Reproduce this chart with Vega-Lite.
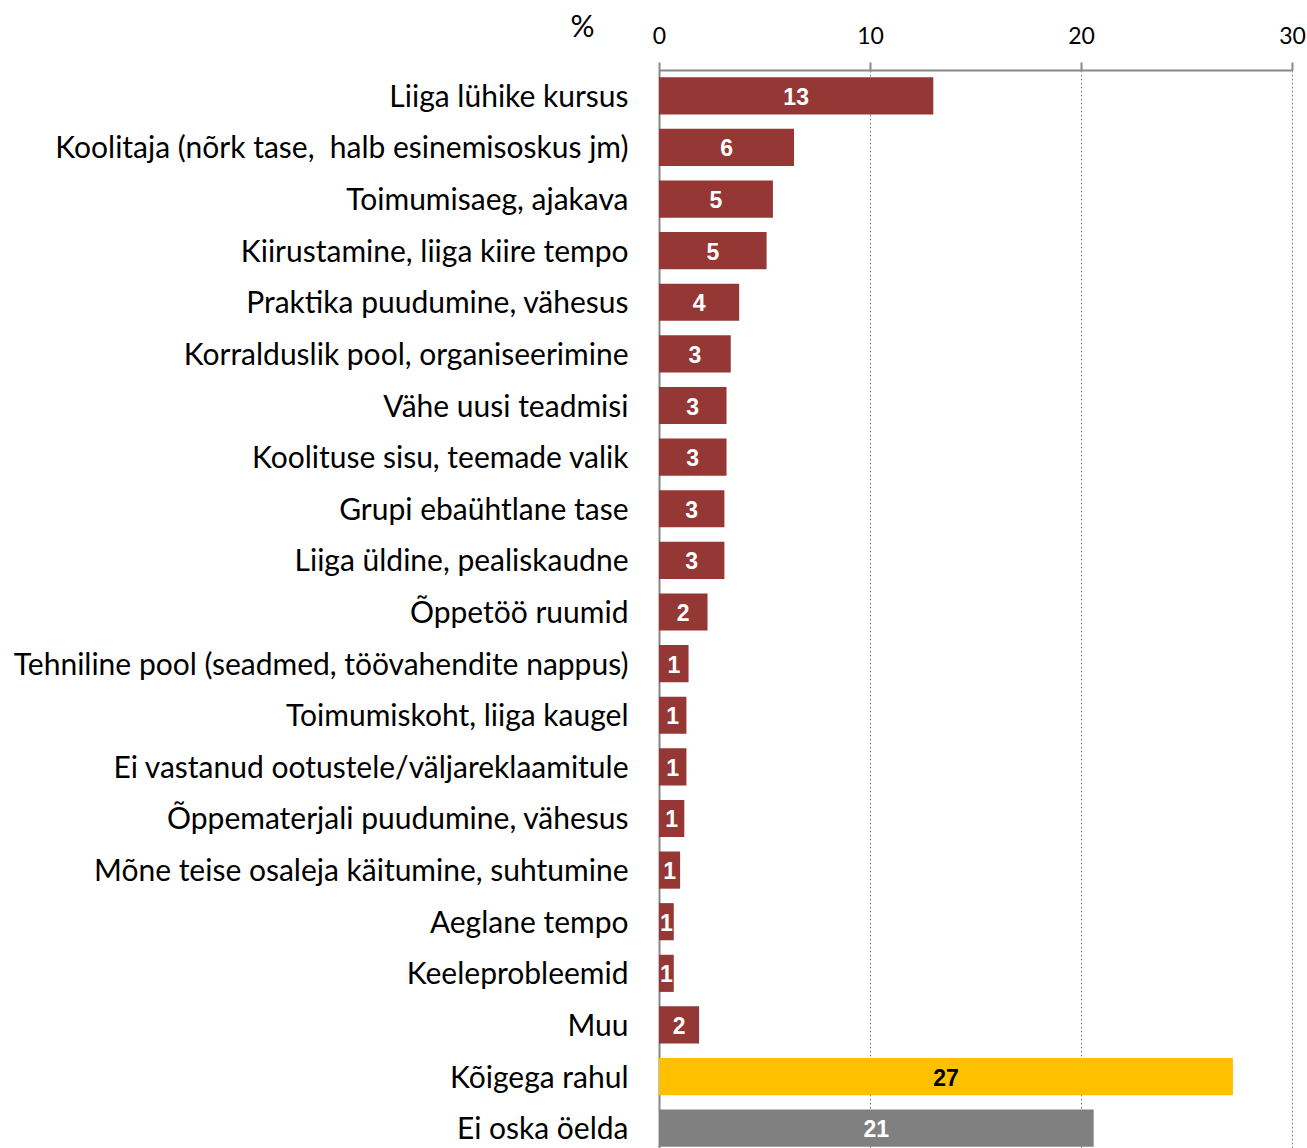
{
  "$schema": "https://vega.github.io/schema/vega-lite/v6.json",
  "width": 633,
  "height": 1084,
  "autosize": "none",
  "padding": {"left": 659, "top": 70, "right": 15, "bottom": 0},
  "config": {"view": {"stroke": null}},
  "data": {"values": [
    {"cat": "Liiga lühike kursus", "v": 13.0, "grp": "a"},
    {"cat": "Koolitaja (nõrk tase,\u00a0 halb esinemisoskus jm)", "v": 6.4, "grp": "a"},
    {"cat": "Toimumisaeg, ajakava", "v": 5.4, "grp": "a"},
    {"cat": "Kiirustamine, liiga kiire tempo", "v": 5.1, "grp": "a"},
    {"cat": "Praktika puudumine, vähesus", "v": 3.8, "grp": "a"},
    {"cat": "Korralduslik pool, organiseerimine", "v": 3.4, "grp": "a"},
    {"cat": "Vähe uusi teadmisi", "v": 3.2, "grp": "a"},
    {"cat": "Koolituse sisu, teemade valik", "v": 3.2, "grp": "a"},
    {"cat": "Grupi ebaühtlane tase", "v": 3.1, "grp": "a"},
    {"cat": "Liiga üldine, pealiskaudne", "v": 3.1, "grp": "a"},
    {"cat": "Õppetöö ruumid", "v": 2.3, "grp": "a"},
    {"cat": "Tehniline pool (seadmed, töövahendite nappus)", "v": 1.4, "grp": "a"},
    {"cat": "Toimumiskoht, liiga kaugel", "v": 1.3, "grp": "a"},
    {"cat": "Ei vastanud ootustele/väljareklaamitule", "v": 1.3, "grp": "a"},
    {"cat": "Õppematerjali puudumine, vähesus", "v": 1.2, "grp": "a"},
    {"cat": "Mõne teise osaleja käitumine, suhtumine", "v": 1.0, "grp": "a"},
    {"cat": "Aeglane tempo", "v": 0.7, "grp": "a"},
    {"cat": "Keeleprobleemid", "v": 0.7, "grp": "a"},
    {"cat": "Muu", "v": 1.9, "grp": "a"},
    {"cat": "Kõigega rahul", "v": 27.2, "grp": "b"},
    {"cat": "Ei oska öelda", "v": 20.6, "grp": "c"}
  ]},
  "encoding": {
    "y": {
      "field": "cat", "type": "nominal", "sort": null,
      "scale": {"paddingInner": 0.28, "paddingOuter": 0.14},
      "axis": {
        "title": null, "ticks": false, "domain": true, "domainColor": "#888888", "domainWidth": 2,
        "labelPadding": 31, "labelFont": "Lato", "labelFontSize": 30, "labelColor": "#000000",
        "labelLimit": 0, "labelOffset": 2
      }
    }
  },
  "layer": [
    {
      "mark": {"type": "bar"},
      "encoding": {
        "x": {
          "field": "v", "type": "quantitative", "scale": {"domain": [0, 30]},
          "axis": {
            "orient": "top", "values": [0, 10, 20, 30], "grid": true, "gridDash": [2, 2], "gridColor": "#888888",
            "domainColor": "#888888", "domainWidth": 2, "tickColor": "#888888", "tickSize": 8, "tickWidth": 2,
            "labelFont": "Lato", "labelFontSize": 23, "labelColor": "#000000", "labelPadding": 14, "labelFlush": false,
            "title": "%", "titleFont": "Lato", "titleFontSize": 30, "titleFontWeight": "normal", "titleColor": "#000000",
            "titleX": -77, "titleY": -43, "titleBaseline": "middle", "titleAlign": "center", "titleAngle": 0
          }
        },
        "color": {
          "field": "grp", "type": "nominal",
          "scale": {"domain": ["a", "b", "c"], "range": ["#953735", "#FFC000", "#808080"]},
          "legend": null
        }
      }
    },
    {
      "mark": {"type": "text", "font": "Liberation Sans", "fontWeight": "bold", "fontSize": 23, "align": "center", "baseline": "middle", "dy": 2},
      "encoding": {
        "x": {"field": "v", "type": "quantitative", "stack": "zero", "bandPosition": 0.5},
        "text": {"field": "v", "type": "quantitative", "format": ".0f"},
        "color": {"condition": {"test": "datum.grp === 'b'", "value": "#000000"}, "value": "#FFFFFF"}
      }
    }
  ]
}
